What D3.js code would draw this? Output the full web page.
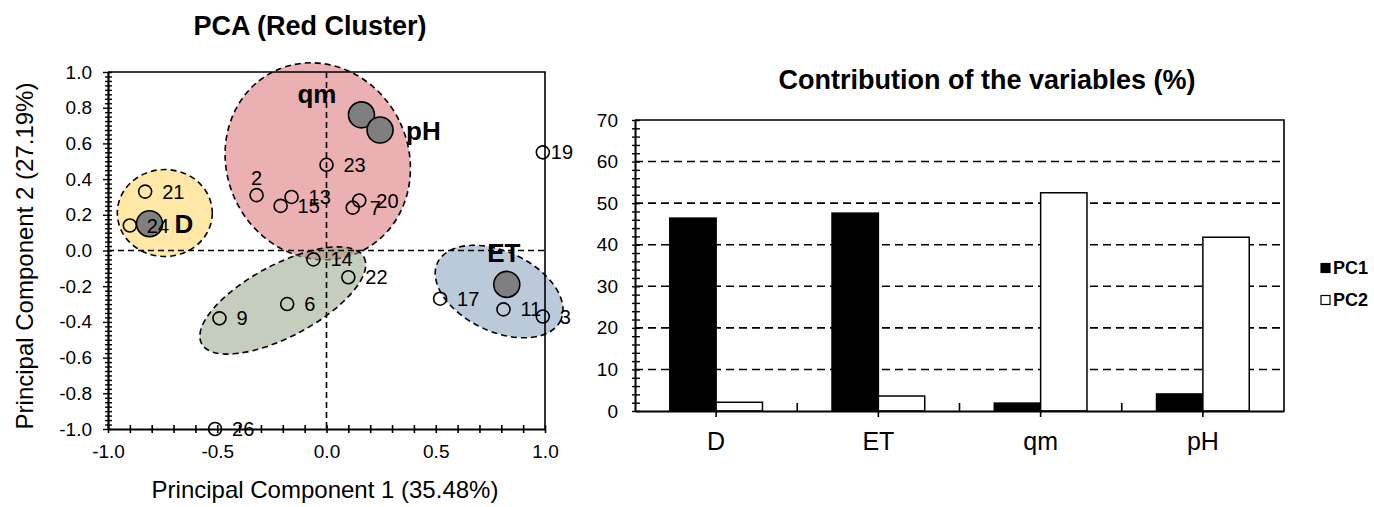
<!DOCTYPE html>
<html>
<head>
<meta charset="utf-8">
<script src="https://cdn.jsdelivr.net/npm/d3@7"></script>
<style>
  body { margin: 0; background: #fff; }
  svg { font-family: "Liberation Sans", Arial, sans-serif; }
</style>
</head>
<body>
<svg width="1374" height="507"></svg>
<script>

// ---- scatter (PCA) data ----
var obsNames = ["21", "24", "2", "15", "13", "23", "20", "7", "19", "14", "22", "6", "9", "26", "17", "11", "3"];
var obsPC1 = [-0.83, -0.90, -0.32, -0.21, -0.16, 0.00, 0.15, 0.12, 0.99, -0.06, 0.10, -0.18, -0.49, -0.51, 0.52, 0.81, 0.99];
var obsPC2 = [0.33, 0.14, 0.31, 0.25, 0.30, 0.48, 0.28, 0.24, 0.55, -0.05, -0.15, -0.30, -0.38, -1.00, -0.27, -0.33, -0.37];

var varNames = ["D", "qm", "pH", "ET"];
var varPC1 = [-0.81, 0.16, 0.245, 0.825];
var varPC2 = [0.15, 0.76, 0.675, -0.19];

// cluster ellipse centres (in PC units)
var clusterNames = ["yellow", "red", "green", "blue"];
var clusterPC1 = [-0.74, -0.04, -0.20, 0.79];
var clusterPC2 = [0.21, 0.50, -0.28, -0.23];

var xTickLabels = [-1.0, -0.5, 0.0, 0.5, 1.0];
var yTickLabels = [-1.0, -0.8, -0.6, -0.4, -0.2, 0.0, 0.2, 0.4, 0.6, 0.8, 1.0];

// ---- bar chart data ----
var categories = ["D", "ET", "qm", "pH"];
var seriesNames = ["PC1", "PC2"];
var pc1Contrib = [46.4, 47.6, 1.9, 4.1];
var pc2Contrib = [2.1, 3.6, 52.5, 41.8];
var barTicks = [0, 10, 20, 30, 40, 50, 60, 70];

// styles for the ellipses and labels
var clusterStyle = {
    yellow: {fill: "rgb(255,213,91)", rx: 47.5, ry: 43.5, rot: 0},
    red:    {fill: "rgb(217,111,115)", rx: 91, ry: 100, rot: -25},
    green:  {fill: "rgb(150,164,135)", rx: 92, ry: 36, rot: -28},
    blue:   {fill: "rgb(130,159,188)", rx: 68, ry: 40, rot: 25}
};
var labelOffset = {"2": [0, -17, "middle"], "19": [8, 0, "start"]};
var varLabelOffset = {
    D: [25, 9, "start"], qm: [-25, -12, "end"], pH: [26, 10, "start"], ET: [-3, -22, "middle"]
};

var svg = d3.select("svg");

// ================= left chart =================
var x = d3.scaleLinear().domain([-1, 1]).range([108, 545]);
var y = d3.scaleLinear().domain([-1, 1]).range([429, 72]);

var left = svg.append("g");

// cluster ellipses
left.selectAll(".cluster")
    .data(clusterNames)
    .enter()
    .append("ellipse")
    .attr("class", "cluster")
    .attr("transform", (d, i) => `translate(${x(clusterPC1[i])},${y(clusterPC2[i])}) rotate(${clusterStyle[d].rot})`)
    .attr("rx", d => clusterStyle[d].rx)
    .attr("ry", d => clusterStyle[d].ry)
    .style("fill", d => clusterStyle[d].fill)
    .style("fill-opacity", 0.55)
    .style("stroke", "#000")
    .style("stroke-width", 1.6)
    .style("stroke-dasharray", "6,4");

// zero lines
left.append("line")
    .attr("x1", x(0)).attr("x2", x(0))
    .attr("y1", y(1)).attr("y2", y(-1))
    .style("stroke", "#000").style("stroke-width", 1.6).style("stroke-dasharray", "6,4");
left.append("line")
    .attr("x1", x(-1)).attr("x2", x(1))
    .attr("y1", y(0)).attr("y2", y(0))
    .style("stroke", "#000").style("stroke-width", 1.6).style("stroke-dasharray", "6,4");

// plot border top / right
left.append("path")
    .attr("d", `M${x(-1)},${y(1)}H${x(1)}V${y(-1)}`)
    .style("fill", "none").style("stroke", "#000").style("stroke-width", 1.6);

// x axis
var xTicks = d3.range(-10, 11).map(i => i / 10);
var xAxis = d3.axisBottom(x)
    .tickValues(xTicks)
    .tickSizeOuter(0)
    .tickFormat(d => {
        var hit = xTickLabels.find(v => Math.abs(v - d) < 1e-9);
        return hit === undefined ? "" : hit.toFixed(1);
    });
var gx = left.append("g")
    .attr("transform", `translate(0,${y(-1)})`)
    .call(xAxis);
gx.select(".domain").style("stroke-width", 2.2);
gx.selectAll(".tick line").attr("y1", -4).attr("y2", 4).style("stroke-width", 1.6);
gx.selectAll(".tick text")
    .attr("y", 29).attr("dy", 0)
    .style("font-size", "19px").style("fill", "#000");

// y axis
var yTicks = d3.range(-40, 41).map(i => i / 40);
var yAxis = d3.axisLeft(y)
    .tickValues(yTicks)
    .tickSizeOuter(0)
    .tickFormat(d => {
        var hit = yTickLabels.find(v => Math.abs(v - d) < 1e-9);
        return hit === undefined ? "" : hit.toFixed(1);
    });
var gy = left.append("g")
    .attr("transform", `translate(${x(-1)},0)`)
    .call(yAxis);
gy.select(".domain").style("stroke-width", 2.2);
gy.selectAll(".tick line")
    .attr("x1", d => yTickLabels.some(v => Math.abs(v - d) < 1e-9) ? -5 : -3)
    .attr("x2", 4)
    .style("stroke-width", 1.4);
gy.selectAll(".tick text")
    .attr("x", -16)
    .style("font-size", "19px").style("fill", "#000");

// observation points
left.selectAll(".obs")
    .data(obsNames)
    .enter()
    .append("circle")
    .attr("class", "obs")
    .attr("cx", (d, i) => x(obsPC1[i]))
    .attr("cy", (d, i) => y(obsPC2[i]))
    .attr("r", 6.5)
    .style("fill", "none")
    .style("stroke", "#000")
    .style("stroke-width", 1.6);

// variable points
left.selectAll(".var")
    .data(varNames)
    .enter()
    .append("circle")
    .attr("class", "var")
    .attr("cx", (d, i) => x(varPC1[i]))
    .attr("cy", (d, i) => y(varPC2[i]))
    .attr("r", 13)
    .style("fill", "#7f7f7f")
    .style("stroke", "#000")
    .style("stroke-width", 1.6);

// observation labels
left.selectAll(".obsLabel")
    .data(obsNames)
    .enter()
    .append("text")
    .attr("class", "obsLabel")
    .attr("x", (d, i) => x(obsPC1[i]) + (labelOffset[d] ? labelOffset[d][0] : 17))
    .attr("y", (d, i) => y(obsPC2[i]) + (labelOffset[d] ? labelOffset[d][1] : 0))
    .attr("dy", "0.35em")
    .attr("text-anchor", d => labelOffset[d] ? labelOffset[d][2] : "start")
    .style("font-size", "20px")
    .text(d => d);

// variable labels
left.selectAll(".varLabel")
    .data(varNames)
    .enter()
    .append("text")
    .attr("class", "varLabel")
    .attr("x", (d, i) => x(varPC1[i]) + varLabelOffset[d][0])
    .attr("y", (d, i) => y(varPC2[i]) + varLabelOffset[d][1])
    .attr("text-anchor", d => varLabelOffset[d][2])
    .style("font-size", "26px")
    .style("font-weight", "bold")
    .text(d => d);

// titles
left.append("text")
    .attr("x", 310).attr("y", 35)
    .attr("text-anchor", "middle")
    .style("font-size", "27px").style("font-weight", "bold")
    .text("PCA (Red Cluster)");
left.append("text")
    .attr("x", 325).attr("y", 498)
    .attr("text-anchor", "middle")
    .style("font-size", "24px")
    .text("Principal Component 1 (35.48%)");
left.append("text")
    .attr("transform", "translate(33,256) rotate(-90)")
    .attr("text-anchor", "middle")
    .style("font-size", "24px")
    .text("Principal Component 2 (27.19%)");

// ================= right chart =================
var xb = d3.scaleBand().domain(categories).range([635, 1284]);
var xs = d3.scaleBand().domain(seriesNames).range([0, xb.bandwidth()]).paddingInner(0).paddingOuter(0.75);
var yb = d3.scaleLinear().domain([0, 70]).range([411, 120]);

var right = svg.append("g");

// dashed gridlines
right.selectAll(".grid")
    .data(barTicks.filter(v => v > 0 && v < 70))
    .enter()
    .append("line")
    .attr("class", "grid")
    .attr("x1", 635).attr("x2", 1284)
    .attr("y1", d => yb(d)).attr("y2", d => yb(d))
    .style("stroke", "#000").style("stroke-width", 1.6).style("stroke-dasharray", "8,5");

// border top/right
right.append("path")
    .attr("d", `M${xb.range()[0]},${yb(70)}H${xb.range()[1]}V${yb(0)}`)
    .style("fill", "none").style("stroke", "#000").style("stroke-width", 1.6);

// bars
var barData = [];
categories.forEach((c, i) => {
    barData.push({cat: c, series: "PC1", value: pc1Contrib[i]});
    barData.push({cat: c, series: "PC2", value: pc2Contrib[i]});
});
right.selectAll(".bar")
    .data(barData)
    .enter()
    .append("rect")
    .attr("class", "bar")
    .attr("x", d => xb(d.cat) + xs(d.series))
    .attr("y", d => yb(d.value))
    .attr("width", xs.bandwidth())
    .attr("height", d => yb(0) - yb(d.value))
    .style("fill", d => d.series == "PC1" ? "#000" : "#fff")
    .style("stroke", "#000")
    .style("stroke-width", 1.5);

// y axis
var yAxisB = d3.axisLeft(yb)
    .tickValues(d3.range(0, 71, 2))
    .tickSizeOuter(0)
    .tickFormat(d => barTicks.includes(d) ? d : "");
var gyb = right.append("g")
    .attr("transform", "translate(635,0)")
    .call(yAxisB);
gyb.select(".domain").style("stroke-width", 2);
gyb.selectAll(".tick line").attr("x1", -3).attr("x2", 5).style("stroke-width", 1.4);
gyb.selectAll(".tick text")
    .attr("x", -17)
    .style("font-size", "19px").style("fill", "#000");

// x axis
var xAxisB = d3.axisBottom(xb).tickSize(6).tickSizeOuter(0);
var gxb = right.append("g")
    .attr("transform", `translate(0,${yb(0)})`)
    .call(xAxisB);
gxb.select(".domain").style("stroke-width", 2);
gxb.selectAll(".tick line").style("stroke-width", 1.6);
gxb.selectAll(".tick text")
    .attr("y", 39).attr("dy", 0)
    .style("font-size", "25px").style("fill", "#000");
// category divider ticks (inside)
right.selectAll(".divider")
    .data(categories.slice(1))
    .enter()
    .append("line")
    .attr("class", "divider")
    .attr("x1", d => xb(d)).attr("x2", d => xb(d))
    .attr("y1", yb(0)).attr("y2", yb(0) - 8)
    .style("stroke", "#000").style("stroke-width", 1.6);

// title
right.append("text")
    .attr("x", 987).attr("y", 89)
    .attr("text-anchor", "middle")
    .style("font-size", "27px").style("font-weight", "bold")
    .text("Contribution of the variables (%)");

// legend
var legend = right.selectAll(".legend")
    .data(seriesNames)
    .enter()
    .append("g")
    .attr("class", "legend")
    .attr("transform", (d, i) => `translate(1321,${268 + i * 32})`);
legend.append("rect")
    .attr("x", 0).attr("y", -4.5)
    .attr("width", 9).attr("height", 9)
    .style("fill", d => d == "PC1" ? "#000" : "#fff")
    .style("stroke", "#000").style("stroke-width", 1.2);
legend.append("text")
    .attr("x", 12).attr("dy", "0.35em")
    .style("font-size", "18px").style("font-weight", "bold")
    .text(d => d);

</script>
</body>
</html>
